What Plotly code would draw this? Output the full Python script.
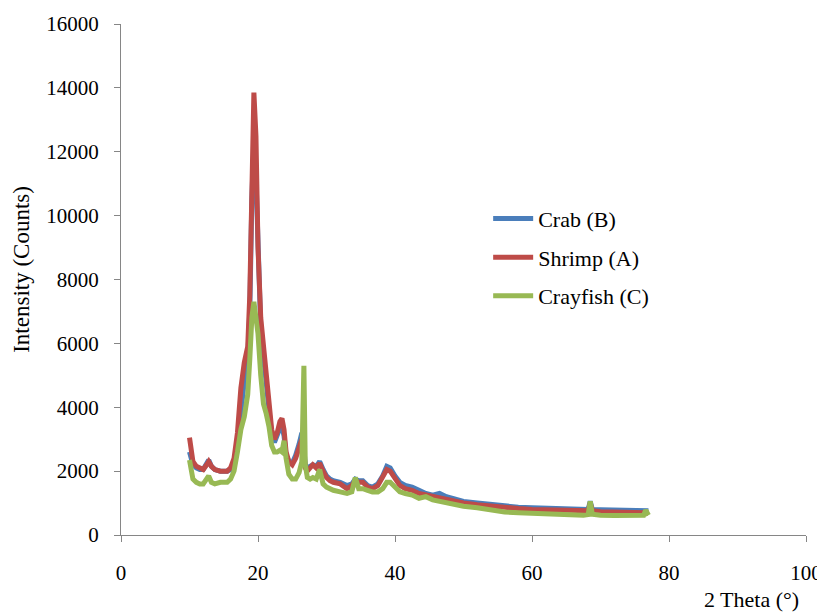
import plotly.graph_objects as go

two_theta = [10, 10.2, 10.5, 11, 11.5, 12, 12.5, 12.8, 13.2, 13.7, 14.5, 15.5, 16, 16.5, 17, 17.5,
             18, 18.5, 18.8, 19.1, 19.4, 19.7, 20, 20.4, 20.8, 21.2, 21.6, 22, 22.4, 22.8, 23.2, 23.5,
             23.8, 24.1, 24.5, 25, 25.5, 26, 26.4, 26.7, 26.9, 27.2, 27.6, 28, 28.5, 29, 29.5, 30,
             30.5, 31, 32, 33, 33.7, 34.2, 34.7, 35.3, 36, 36.7, 37.5, 38.2, 38.8, 39.3, 40, 40.7,
             41.5, 42.5, 43.5, 44.5, 45.5, 46.5, 47.5, 48.5, 50, 52, 54, 56, 58, 60, 62, 64,
             66, 67.5, 68.2, 68.5, 68.8, 70, 72, 74, 75.5, 76.3, 76.6, 77]

crab = [2600, 2400, 2200, 2100, 2050, 2050, 2250, 2350, 2150, 2050, 2000, 2000, 2050, 2250, 2900, 4000,
        4800, 5500, 7000, 10500, 12300, 11200, 8500, 6500, 5600, 4800, 4000, 3100, 2900, 3100, 3350, 3400,
        3100, 2500, 2300, 2250, 2500, 2850, 3200, 2700, 2200, 2100, 2150, 2200, 2150, 2300, 2050, 1850,
        1750, 1700, 1650, 1550, 1600, 1750, 1700, 1700, 1550, 1500, 1600, 1850, 2150, 2100, 1850, 1650,
        1550, 1500, 1400, 1300, 1250, 1300, 1200, 1150, 1050, 1000, 950, 900, 870, 850, 830, 810,
        790, 790, 800, 1050, 800, 790, 780, 780, 780, 790, 780, 760]

shrimp = [3050, 2700, 2300, 2150, 2100, 2050, 2200, 2300, 2150, 2050, 2000, 2000, 2100, 2400, 3200, 4600,
          5400, 5900, 7500, 11500, 13850, 12500, 9000, 6800, 6000, 5200, 4300, 3300, 3000, 3200, 3550, 3650,
          3300, 2600, 2300, 2200, 2400, 2700, 3000, 2600, 2100, 2000, 2100, 2200, 2100, 2250, 2000, 1800,
          1700, 1650, 1600, 1450, 1550, 1700, 1650, 1650, 1500, 1450, 1550, 1800, 2050, 2000, 1800, 1550,
          1450, 1400, 1300, 1250, 1200, 1150, 1100, 1050, 1000, 950, 900, 850, 830, 800, 790, 760,
          750, 740, 760, 1000, 760, 730, 720, 720, 720, 730, 700, 680]

crayfish = [2350, 2000, 1750, 1650, 1600, 1600, 1750, 1850, 1650, 1600, 1650, 1650, 1750, 2000, 2600, 3300,
            3700, 4400, 5500, 6800, 7300, 6900, 6300, 5000, 4100, 3800, 3400, 2800, 2600, 2600, 2650, 2600,
            2950, 2400, 1900, 1750, 1750, 1950, 2300, 5300, 2200, 1800, 1750, 1800, 1750, 2050, 1600, 1500,
            1450, 1400, 1350, 1300, 1350, 1800, 1450, 1450, 1400, 1350, 1350, 1450, 1650, 1650, 1500, 1350,
            1300, 1250, 1150, 1200, 1100, 1050, 1000, 950, 900, 850, 780, 720, 700, 680, 670, 640,
            620, 620, 640, 1050, 650, 620, 610, 600, 600, 620, 780, 620]

x_ticks = [0, 20, 40, 60, 80, 100]
y_ticks = [0, 2000, 4000, 6000, 8000, 10000, 12000, 14000, 16000]

series = [("Crab (B)", crab, "#4A7EBB"),
          ("Shrimp (A)", shrimp, "#BE4B48"),
          ("Crayfish (C)", crayfish, "#98B954")]

FONT = "Liberation Serif, Times New Roman, serif"

fig = go.Figure()
for i, (name, vals, col) in enumerate(series):
    fig.add_trace(go.Scatter(x=two_theta, y=vals, mode="lines", name=name,
                             legendgroup=f"g{i}",
                             line=dict(color=col, width=5)))

axis_col = "#868686"
fig.update_layout(
    width=817, height=604,
    margin=dict(l=113, r=19, t=16, b=77),
    paper_bgcolor="white", plot_bgcolor="white",
    font=dict(family=FONT, size=21, color="black"),
    showlegend=True,
    legend=dict(x=0.536, y=0.660, xanchor="left", yanchor="top",
                font=dict(family=FONT, size=22, color="black"),
                bgcolor="rgba(0,0,0,0)", tracegroupgap=7, itemwidth=40),
    xaxis=dict(range=[0, 100], tickvals=x_ticks, ticktext=[str(v) for v in x_ticks],
               showgrid=False, zeroline=False, showline=True, linecolor=axis_col,
               linewidth=1, ticks="outside", ticklen=6, tickcolor=axis_col,
               ticklabelstandoff=13, automargin=False,
               tickfont=dict(family=FONT, size=21)),
    yaxis=dict(range=[0, 16000], tickvals=y_ticks, ticktext=[str(v) for v in y_ticks],
               showgrid=False, zeroline=False, showline=True, linecolor=axis_col,
               linewidth=1, ticks="outside", ticklen=6, tickcolor=axis_col,
               ticklabelstandoff=11, automargin=False,
               tickfont=dict(family=FONT, size=21)),
    annotations=[
        dict(text="Intensity (Counts)", xref="paper", yref="paper", x=-0.1445, y=0.519,
             xanchor="center", yanchor="middle", textangle=-90, showarrow=False,
             font=dict(family=FONT, size=23, color="black")),
        dict(text="2 Theta (°)", xref="paper", yref="paper", x=0.993, y=-0.127,
             xanchor="right", yanchor="middle", showarrow=False,
             font=dict(family=FONT, size=22, color="black")),
    ],
)

fig.write_html("out.html")
